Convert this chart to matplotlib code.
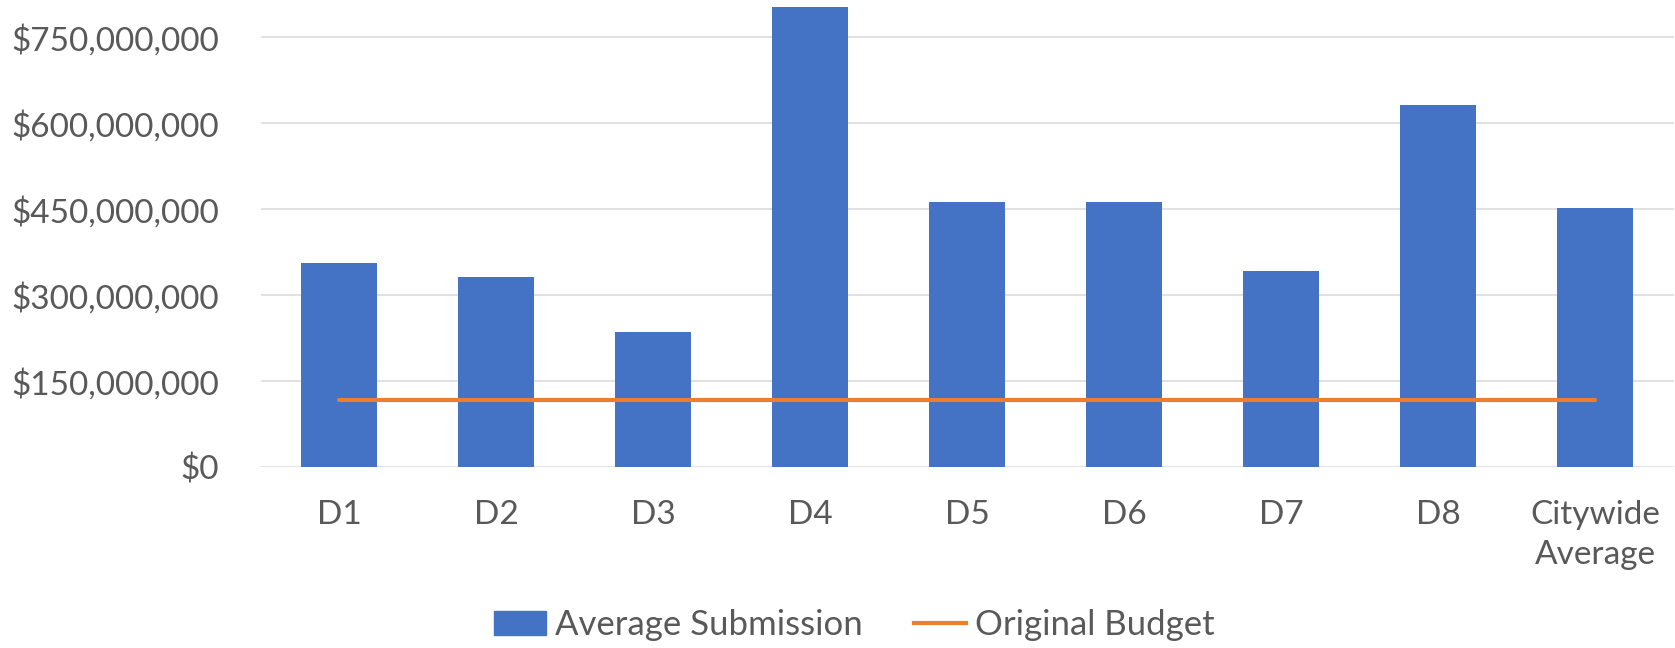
import matplotlib
matplotlib.use("Agg")
import matplotlib.pyplot as plt
import matplotlib.ticker as mticker
from matplotlib.patches import Patch
from matplotlib.lines import Line2D

districts = ["D1", "D2", "D3", "D4", "D5", "D6", "D7", "D8", "Citywide\nAverage"]
avg_submission = [356e6, 331e6, 235e6, 803e6, 463e6, 463e6, 342e6, 631e6, 452e6]
original_budget = [117e6] * 9
yticks = [0, 150e6, 300e6, 450e6, 600e6, 750e6]

BLUE = "#4472C4"
ORANGE = "#ED7D31"
TEXT = "#595959"
GRID = "#D9D9D9"

plt.rcParams.update({
    "font.family": ["Lato", "DejaVu Sans"],
    "font.size": 24,
    "text.color": TEXT,
})

fig = plt.figure(figsize=(16.75, 6.48), dpi=100)
ax = fig.add_axes([260.5 / 1675, 1 - 467 / 648, 1413 / 1675, 467 / 648])

x = list(range(len(districts)))
ax.bar(x, avg_submission, width=0.49, color=BLUE, zorder=2)
ax.plot(x, original_budget, color=ORANGE, linewidth=3, solid_capstyle="round", zorder=3)

ax.set_xlim(-0.5, len(districts) - 0.5)
ax.set_ylim(0, 815e6)
ax.set_yticks(yticks)
ax.yaxis.set_major_formatter(mticker.FuncFormatter(lambda v, _: f"${v:,.0f}"))
ax.set_xticks(x)
ax.set_xticklabels(districts, linespacing=1.4)

for s in ax.spines.values():
    s.set_visible(False)
ax.yaxis.grid(True, color=GRID, linewidth=1.1, zorder=0)
ax.set_axisbelow(True)
ax.tick_params(axis="y", length=0, pad=30, colors=TEXT)
ax.tick_params(axis="x", length=0, pad=24, colors=TEXT)

handles = [Patch(color=BLUE, label="Average Submission"),
           Line2D([], [], color=ORANGE, linewidth=3, label="Original Budget")]
fig.legend(handles=handles, loc="center", bbox_to_anchor=(0.51, 1 - 625 / 648),
           ncol=2, frameon=False, handlelength=1.5, handletextpad=0.25,
           columnspacing=1.5, fontsize=25)

fig.savefig("out.png", dpi=100)
